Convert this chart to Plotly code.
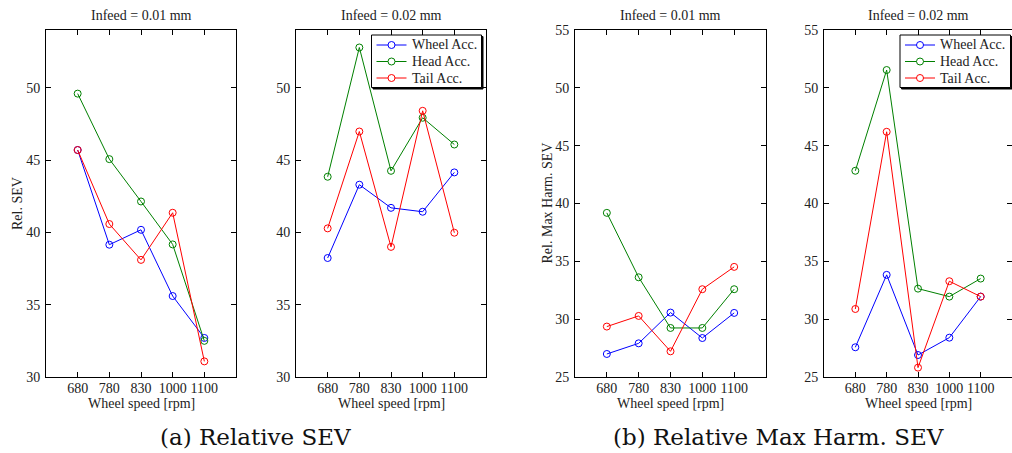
import plotly.graph_objects as go

W, H = 1012, 453

speeds = ["680", "780", "830", "1000", "1100"]
series_names = ["Wheel Acc.", "Head Acc.", "Tail Acc."]
series_colors = ["#0000ff", "#008000", "#ff0000"]

# (a) Relative SEV
sev_001_wheel = [45.7, 39.15, 40.18, 35.6, 32.7]
sev_001_head = [49.6, 45.07, 42.14, 39.17, 32.5]
sev_001_tail = [45.7, 40.58, 38.1, 41.36, 31.08]
sev_002_wheel = [38.23, 43.3, 41.7, 41.43, 44.15]
sev_002_head = [43.85, 52.79, 44.26, 47.93, 46.08]
sev_002_tail = [40.28, 46.98, 39.0, 48.41, 39.98]

# (b) Relative Max Harm. SEV
mh_001_wheel = [26.99, 27.91, 30.57, 28.37, 30.54]
mh_001_head = [39.19, 33.62, 29.24, 29.24, 32.59]
mh_001_tail = [29.36, 30.28, 27.22, 32.59, 34.52]
mh_002_wheel = [27.57, 33.83, 26.9, 28.4, 31.95]
mh_002_head = [42.83, 51.54, 32.64, 31.95, 33.51]
mh_002_tail = [30.88, 46.2, 25.81, 33.28, 31.95]

panel_titles = ["Infeed = 0.01 mm", "Infeed = 0.02 mm", "Infeed = 0.01 mm", "Infeed = 0.02 mm"]
ylabels = ["Rel. SEV", "Rel. Max Harm. SEV"]
xlabel = "Wheel speed [rpm]"
captions = ["(a) Relative SEV", "(b) Relative Max Harm. SEV"]

panels = [
    [sev_001_wheel, sev_001_head, sev_001_tail],
    [sev_002_wheel, sev_002_head, sev_002_tail],
    [mh_001_wheel, mh_001_head, mh_001_tail],
    [mh_002_wheel, mh_002_head, mh_002_tail],
]

FONT = "Liberation Serif, Times New Roman, serif"
TXT = "#222"

def px(x):
    return x / W

def py(y):
    return 1 - y / H

# panel pixel boxes (left, right)
boxes = [(46, 236), (296, 486), (575, 766), (824, 1012)]
top, bottom = 30, 377
yranges = [[30, 54], [30, 54], [25, 55], [25, 55]]
yticks = [[30, 35, 40, 45, 50], [30, 35, 40, 45, 50],
          [25, 30, 35, 40, 45, 50, 55], [25, 30, 35, 40, 45, 50, 55]]

fig = go.Figure()

for i, data in enumerate(panels):
    xa = "x" if i == 0 else f"x{i+1}"
    ya = "y" if i == 0 else f"y{i+1}"
    for name, color, vals in zip(series_names, series_colors, data):
        fig.add_trace(go.Scatter(
            x=speeds, y=vals, mode="lines+markers", name=name,
            line=dict(color=color, width=1),
            marker=dict(symbol="circle-open", size=7, color=color, line=dict(width=1, color=color)),
            xaxis=xa, yaxis=ya, showlegend=False,
        ))

axis_common = dict(
    showline=True, linecolor="black", linewidth=1, mirror="ticks",
    ticks="inside", ticklen=5, tickcolor="black", tickwidth=1,
    showgrid=False, zeroline=False, automargin=False,
    tickfont=dict(family=FONT, size=14, color=TXT),
)

layout = dict(
    width=W, height=H, margin=dict(l=0, r=0, t=0, b=0, pad=0, autoexpand=False),
    paper_bgcolor="white", plot_bgcolor="white", showlegend=False,
    font=dict(family=FONT, size=14, color=TXT),
)

for i in range(4):
    xk = "xaxis" if i == 0 else f"xaxis{i+1}"
    yk = "yaxis" if i == 0 else f"yaxis{i+1}"
    l, r = boxes[i]
    layout[xk] = dict(axis_common, domain=[px(l), min(1.0, px(r))], type="category",
                      categoryorder="array", categoryarray=speeds,
                      range=[-1, 5], anchor="y" if i == 0 else f"y{i+1}",
                      ticklabelstandoff=-2)
    layout[yk] = dict(axis_common, domain=[py(bottom), py(top)], range=yranges[i],
                      tickvals=yticks[i], anchor="x" if i == 0 else f"x{i+1}",
                      ticklabelstandoff=2)

fig.update_layout(**layout)

ann = []
shapes = []
for i in range(4):
    l, r = boxes[i]
    ann.append(dict(x=px((l + r) / 2), y=py(16), text=panel_titles[i], showarrow=False,
                    xref="paper", yref="paper", xanchor="center", yanchor="middle",
                    font=dict(family=FONT, size=14, color=TXT)))
    ann.append(dict(x=px((l + r) / 2), y=py(403), text=xlabel, showarrow=False,
                    xref="paper", yref="paper", xanchor="center", yanchor="middle",
                    font=dict(family=FONT, size=14, color=TXT)))
for text, xc in zip(ylabels, [17.5, 547]):
    ann.append(dict(x=px(xc), y=py((top + bottom) / 2), text=text, showarrow=False,
                    xref="paper", yref="paper", xanchor="center", yanchor="middle",
                    textangle=-90, font=dict(family=FONT, size=14, color=TXT)))
for text, xc in zip(captions, [255, 778]):
    ann.append(dict(x=px(xc), y=py(437), text=text, showarrow=False,
                    xref="paper", yref="paper", xanchor="center", yanchor="middle",
                    font=dict(family="DejaVu Serif, serif", size=23, color="#111")))

# MATLAB-style legend boxes (panels 2 and 4)
legend_boxes = [(371.5, 481.5), (900, 1010.5)]
leg_top, leg_bot = 35, 87.5
row_offsets = [10, 26.5, 43]
for (lx0, lx1) in legend_boxes:
    shapes.append(dict(type="rect", xref="paper", yref="paper",
                       x0=px(lx0 + 1.5), x1=px(lx1 + 1.5), y0=py(leg_bot + 1.5), y1=py(leg_top + 1.5),
                       line=dict(color="black", width=1), fillcolor="black"))
    shapes.append(dict(type="rect", xref="paper", yref="paper",
                       x0=px(lx0), x1=px(lx1), y0=py(leg_bot), y1=py(leg_top),
                       line=dict(color="black", width=1), fillcolor="white"))
    for name, color, off in zip(series_names, series_colors, row_offsets):
        yy = leg_top + off
        shapes.append(dict(type="line", xref="paper", yref="paper",
                           x0=px(lx0 + 5), x1=px(lx0 + 35), y0=py(yy), y1=py(yy),
                           line=dict(color=color, width=1)))
        cx = lx0 + 20
        shapes.append(dict(type="circle", xref="paper", yref="paper",
                           x0=px(cx - 3.5), x1=px(cx + 3.5), y0=py(yy + 3.5), y1=py(yy - 3.5),
                           line=dict(color=color, width=1), fillcolor="white"))
        ann.append(dict(x=px(lx0 + 38), y=py(yy), text=name, showarrow=False,
                        xref="paper", yref="paper", xanchor="left", yanchor="middle",
                        font=dict(family=FONT, size=14, color=TXT)))

fig.update_layout(annotations=ann, shapes=shapes)

fig.write_html("out.html")
